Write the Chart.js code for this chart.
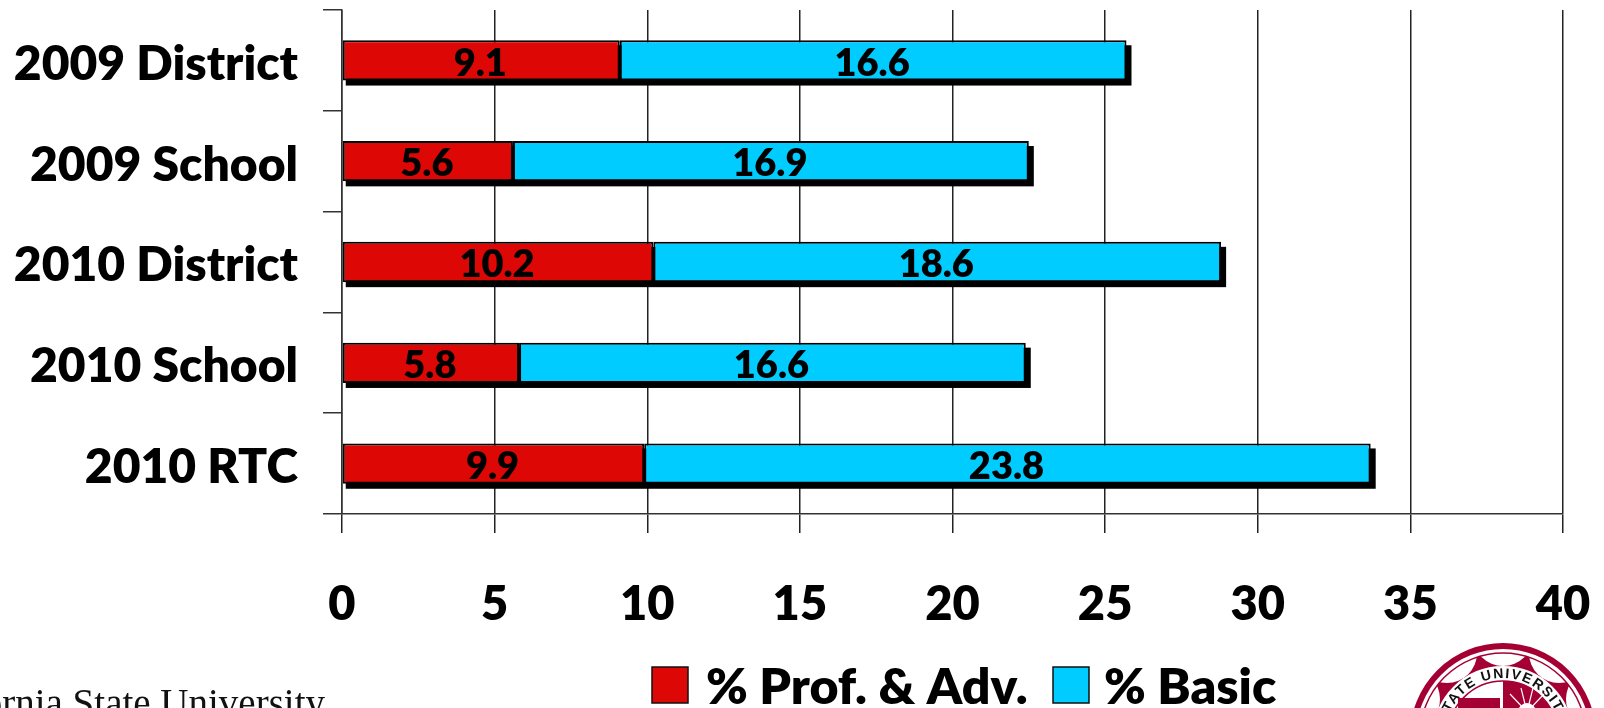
<!DOCTYPE html>
<html>
<head>
<meta charset="utf-8">
<title>Percent of students by group</title>
<script src="https://cdn.jsdelivr.net/npm/chart.js@4"></script>
<style>
  html, body { margin: 0; padding: 0; background: #fff; }
  #wrap { position: relative; width: 1604px; height: 708px; overflow: hidden; }
  #chart { position: absolute; left: 0; top: 0; }
  #footer {
    position: absolute; right: 1279px; top: 680px; white-space: nowrap;
    font: 39px "Liberation Serif", serif; color: #111;
  }
  #seal { position: absolute; left: 1400px; top: 630px; }
</style>
</head>
<body>
<div id="wrap">
  <canvas id="chart" width="1604" height="708"></canvas>
  <div id="footer">California State University</div>
  <svg id="seal" width="204" height="78" viewBox="1400 630 204 78">
    <defs>
      <path id="sealArc" d="M 1445 736 A 58 58 0 0 1 1561 736"></path>
    </defs>
    <!-- scalloped band, with white lobes biting into it -->
    <circle cx="1503" cy="736" r="76.5" fill="none" stroke="#a50034" stroke-width="13"></circle>
    <circle cx="1503" cy="636" r="30" fill="#fff"></circle>
    <circle cx="1447" cy="653" r="30" fill="#fff"></circle>
    <circle cx="1559" cy="653" r="30" fill="#fff"></circle>
    <circle cx="1410" cy="699" r="30" fill="#fff"></circle>
    <circle cx="1596" cy="699" r="30" fill="#fff"></circle>
    <circle cx="1503" cy="736" r="90" fill="none" stroke="#a50034" stroke-width="6"></circle>
    <circle cx="1503" cy="736" r="83" fill="none" stroke="#a50034" stroke-width="1.5"></circle>
    <text font-family="Liberation Sans" font-weight="bold" font-size="14" fill="#111" letter-spacing="1.5">
      <textPath href="#sealArc" startOffset="50%" text-anchor="middle">STATE UNIVERSITY</textPath>
    </text>
    <circle cx="1503" cy="736" r="55" fill="none" stroke="#a50034" stroke-width="1.5"></circle>
    <rect x="1458" y="698" width="42" height="10" fill="#a50034"></rect>
    <path d="M 1503 681 A 55 55 0 0 1 1558 736 L 1503 736 Z" fill="#a50034"></path>
    <g stroke="#fff" stroke-width="1.2">
      <line x1="1527" y1="712" x2="1510" y2="694"></line>
      <line x1="1527" y1="712" x2="1521" y2="688"></line>
      <line x1="1527" y1="712" x2="1533" y2="688"></line>
      <line x1="1527" y1="712" x2="1544" y2="694"></line>
    </g>
    <circle cx="1527" cy="712" r="9" fill="#fff"></circle>
  </svg>
</div>

<script>
// group labels, top to bottom
const categories = ['2009 District', '2009 School', '2010 District', '2010 School', '2010 RTC'];
const profAdv = [9.1, 5.6, 10.2, 5.8, 9.9];
const basic = [16.6, 16.9, 18.6, 16.6, 23.8];

const RED = '#dd0806';
const BLUE = '#00ccff';
const LINE = '#333333';
const FONT = 'Lato, "Open Sans", sans-serif';
const WEIGHT = '800';

// solid black offset behind each whole stacked bar
const barShadow = {
  id: 'barShadow',
  beforeDatasetsDraw(chart) {
    const { ctx } = chart;
    const first = chart.getDatasetMeta(0).data;
    const last = chart.getDatasetMeta(1).data;
    ctx.save();
    ctx.fillStyle = '#000';
    first.forEach((bar, i) => {
      const end = last[i];
      ctx.fillRect(bar.base + 3, bar.y - bar.height / 2 + 5, end.x - bar.base + 2, bar.height);
    });
    ctx.restore();
  },
};

// value printed in the middle of each segment
const segmentLabels = {
  id: 'segmentLabels',
  afterDatasetsDraw(chart) {
    const { ctx } = chart;
    ctx.save();
    ctx.font = WEIGHT + ' 38px ' + FONT;
    ctx.fillStyle = '#000';
    ctx.textAlign = 'center';
    ctx.textBaseline = 'middle';
    chart.data.datasets.forEach((ds, d) => {
      chart.getDatasetMeta(d).data.forEach((bar, i) => {
        ctx.fillText(ds.data[i].toFixed(1), (bar.x + bar.base) / 2 - 1, bar.y + 3);
      });
    });
    ctx.restore();
  },
};

// legend row under the axis, tighter swatch-to-text gap than the built-in one
const legendRow = {
  id: 'legendRow',
  afterDraw(chart) {
    const { ctx } = chart;
    const swatchX = [652, 1053];
    const textX = [706, 1104];
    ctx.save();
    ctx.font = WEIGHT + ' 50px ' + FONT;
    ctx.textBaseline = 'middle';
    chart.data.datasets.forEach((ds, d) => {
      ctx.fillStyle = ds.backgroundColor;
      ctx.strokeStyle = '#111';
      ctx.lineWidth = 1.5;
      ctx.fillRect(swatchX[d], 667, 36, 36);
      ctx.strokeRect(swatchX[d], 667, 36, 36);
      ctx.fillStyle = '#000';
      ctx.fillText(ds.label, textX[d], 688);
    });
    ctx.restore();
  },
};

new Chart(document.getElementById('chart'), {
  type: 'bar',
  data: {
    labels: categories,
    datasets: [
      { label: '% Prof. & Adv.', data: profAdv, backgroundColor: RED },
      { label: '% Basic', data: basic, backgroundColor: BLUE },
    ],
  },
  options: {
    indexAxis: 'y',
    responsive: false,
    animation: false,
    datasets: {
      bar: {
        barPercentage: 0.4,
        categoryPercentage: 1,
        borderColor: '#000',
        borderWidth: 2,
        borderSkipped: false,
      },
    },
    layout: { padding: { top: 10, right: 41, bottom: 0, left: 0 } },
    scales: {
      x: {
        stacked: true,
        min: 0,
        max: 40,
        ticks: {
          stepSize: 5,
          padding: 44,
          color: '#000',
          maxRotation: 0,
          font: { family: FONT, size: 47, weight: WEIGHT },
        },
        grid: { color: '#222', lineWidth: 1.5, tickLength: 19 },
        border: { color: LINE, width: 1.5 },
        afterFit(scale) {
          scale.height = 194;
          scale.paddingLeft = 0;
          scale.paddingRight = 0;
        },
      },
      y: {
        stacked: true,
        ticks: {
          padding: 25,
          labelOffset: 4,
          color: '#000',
          autoSkip: false,
          font: { family: FONT, size: 48, weight: WEIGHT },
        },
        grid: { offset: true, drawOnChartArea: false, color: LINE, lineWidth: 1.5, tickLength: 19 },
        border: { color: LINE, width: 1.5 },
        afterFit(scale) {
          scale.width = 342;
          scale.paddingTop = 0;
          scale.paddingBottom = 0;
        },
      },
    },
    plugins: {
      tooltip: { enabled: false },
      legend: { display: false },
    },
  },
  plugins: [barShadow, segmentLabels, legendRow],
});
</script>
</body>
</html>
